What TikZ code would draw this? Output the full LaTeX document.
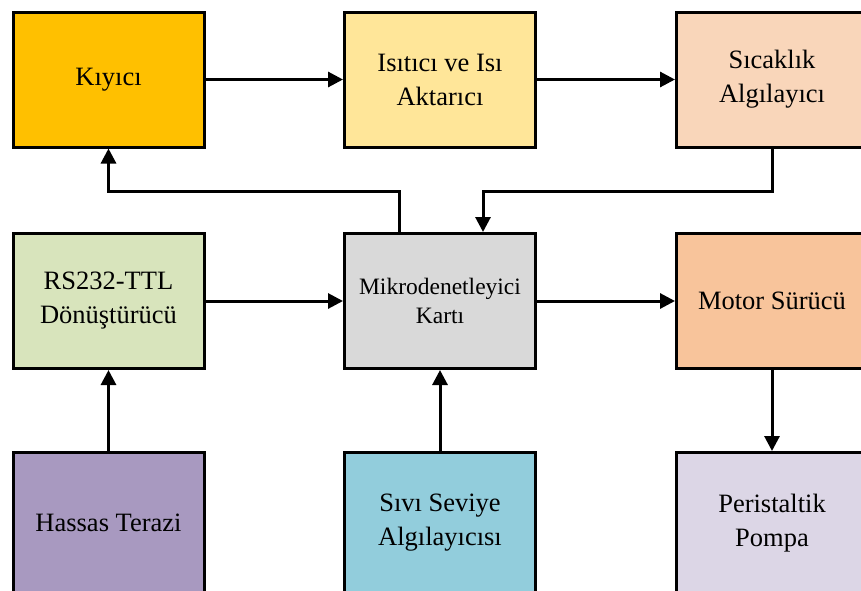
\documentclass[tikz,border=0pt]{standalone}
\usepackage{fontspec}
\setmainfont{Liberation Serif}
\usetikzlibrary{arrows.meta}

\definecolor{kiyicicol}{HTML}{FFC000}
\definecolor{isiticicol}{HTML}{FFE699}
\definecolor{sicaklikcol}{HTML}{F9D6BA}
\definecolor{rscol}{HTML}{D8E4BC}
\definecolor{mikrocol}{HTML}{D9D9D9}
\definecolor{motorcol}{HTML}{F8C49B}
\definecolor{terazicol}{HTML}{A899C0}
\definecolor{sivicol}{HTML}{92CDDC}
\definecolor{pompacol}{HTML}{DCD6E6}

\begin{document}
\begin{tikzpicture}[x=1pt, y=-1pt,
 every node/.style = {shape=rectangle, draw, line width=3pt, align=center,
 minimum width=191pt, minimum height=135pt, inner sep=0pt,
 font=\fontsize{26.5}{34}\selectfont},
 link/.style = {draw, line width=3pt, -{Triangle[length=15pt,width=15pt]}}]
 \useasboundingbox (0,0) rectangle (861,590);
 \clip (0,0) rectangle (861,590);

 % top row
 \node (kiyici)   [fill=kiyicicol]   at (108.5,79.5) {K\i y\i c\i};
 \node (isitici)  [fill=isiticicol]  at (440,79.5)   {Is\i t\i c\i\ ve Is\i\\Aktar\i c\i};
 \node (sicaklik) [fill=sicaklikcol] at (772,79.5)   {S\i cakl\i k\\Alg\i lay\i c\i};

 % middle row
 \node (rs)    [fill=rscol]    at (108.5,301) {RS232-TTL\\Dönüştürücü};
 \node (mikro) [fill=mikrocol, font=\fontsize{23.5}{29}\selectfont] at (440,301) {Mikrodenetleyici\\Kart\i};
 \node (motor) [fill=motorcol] at (772,301) {Motor Sürücü};

 % bottom row (cut by the page edge)
 \node (terazi) [fill=terazicol, minimum height=141pt] at (108.5,523) {Hassas Terazi};
 \node (sivi)   [fill=sivicol, minimum height=141pt]   at (440,523)   {S\i v\i\ Seviye\\Alg\i lay\i c\i s\i};
 \node (pompa)  [fill=pompacol, minimum height=141pt]  at (772,523)   {Peristaltik\\Pompa};

 \coordinate (geri) at (483,191);
 \coordinate (ileri) at (399,191);

 \draw[link] (kiyici) -- (isitici);
 \draw[link] (isitici) -- (sicaklik);
 \draw[link] (sicaklik.south) |- (geri) -- (mikro.north -| geri);
 \draw[link] (mikro.north -| ileri) -- (ileri) -| (kiyici.south);
 \draw[link] (rs) -- (mikro);
 \draw[link] (mikro) -- (motor);
 \draw[link] (motor) -- (pompa);
 \draw[link] (terazi) -- (rs);
 \draw[link] (sivi) -- (mikro);
\end{tikzpicture}
\end{document}
